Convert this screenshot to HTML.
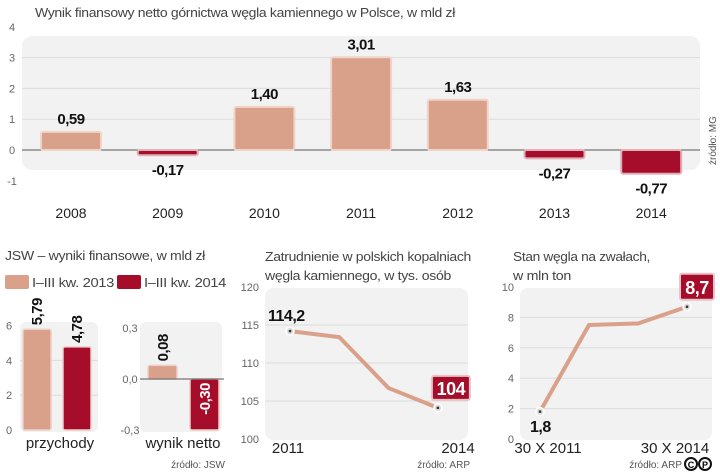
<!DOCTYPE html>
<html><head><meta charset="utf-8">
<style>
body{margin:0;background:#fff;}
svg{display:block;font-family:"Liberation Sans Narrow","Liberation Sans",sans-serif;}
.ax{fill:#666;font-size:11px;}
.t{fill:#444;font-size:13px;letter-spacing:-0.3px;}
.v{fill:#111;font-size:15px;font-weight:bold;letter-spacing:-0.5px;}
.c{fill:#222;font-size:14px;}
.s{fill:#555;font-size:10px;}
</style></head><body>
<svg id="g" width="720" height="473" viewBox="0 0 720 473"></svg>
<script>
const years=['2008','2009','2010','2011','2012','2013','2014'];
const netValues=[0.59,-0.17,1.40,3.01,1.63,-0.27,-0.77];
const netLabels=['0,59','-0,17','1,40','3,01','1,63','-0,27','-0,77'];
const topTicks=[4,3,2,1,0,-1];
const jswGroups=['przychody','wynik netto'];
const jswRevenue=[5.79,4.78];
const jswRevenueLabels=['5,79','4,78'];
const jswNet=[0.08,-0.30];
const jswNetLabels=['0,08','-0,30'];
const revTicks=[6,4,2,0];
const netTicks=[0.3,0.0,-0.3];
const netTickLabels=['0,3','0,0','-0,3'];
const empValues=[114.2,113.4,106.7,104.1];
const empTicks=[120,115,110,105,100];
const empXLabels=['2011','2014'];
const coalValues=[1.8,7.5,7.6,8.7];
const coalTicks=[10,8,6,4,2,0];
const coalXLabels=['30 X 2011','30 X 2014'];
const LIGHT='#d9a08a',DARK='#a50d2a';
const svg=document.getElementById('g');
function el(tag,a,txt,parent){const e=document.createElementNS('http://www.w3.org/2000/svg',tag);for(const k in a)e.setAttribute(k,a[k]);if(txt!=null)e.textContent=txt;(parent||svg).appendChild(e);return e;}

// ---- top chart
let t=el('text',{x:35,y:17,class:'t',textLength:420,lengthAdjust:'spacingAndGlyphs'},'Wynik finansowy netto górnictwa węgla kamiennego w Polsce, w mld zł');

const ty=v=>150-v*30.8;
const tx=i=>71+i*96.7;
let p=el('rect',{x:22,y:36,width:678,height:134,rx:10,fill:'#f2f2f2'});

topTicks.forEach(v=>{
 if(v>-1&&v<4&&v!==0){let l=el('line',{x1:22,x2:700,y1:ty(v),y2:ty(v),stroke:'#dcdcdc'});}
 let a=el('text',{x:12,y:ty(v)+4,class:'ax','text-anchor':'middle'},String(v));
 
});
let z=el('line',{x1:22,x2:700,y1:ty(0),y2:ty(0),stroke:'#555'});
netValues.forEach((v,i)=>{
 const y0=ty(Math.max(v,0)),h=Math.abs(ty(v)-ty(0));
 let b=el('rect',{x:tx(i)-30,y:y0,width:60,height:h,fill:v>=0?LIGHT:DARK,stroke:v>=0?'#f0d4c8':'#e0b0b8','stroke-width':2,rx:2});
 
 let lb=el('text',{x:tx(i),y:v>=0?y0-8:ty(v)+20,class:'v','text-anchor':'middle'},netLabels[i]);
 
 let yl=el('text',{x:tx(i),y:218,class:'c','text-anchor':'middle'},years[i]);
 
});
let sm=el('text',{x:0,y:0,class:'s',transform:'translate(716,165) rotate(-90)'},'źródło: MG');


// ---- JSW
t=el('text',{x:5,y:260,class:'t',textLength:200,lengthAdjust:'spacingAndGlyphs'},'JSW – wyniki finansowe, w mld zł');
[[LIGHT,'I–III kw. 2013',5],[DARK,'I–III kw. 2014',117]].forEach(([c,s,x])=>{
 let r=el('rect',{x:x,y:275,width:24,height:14,fill:c,rx:2});
 let lt=el('text',{x:x+27,y:287,class:'t',textLength:82,lengthAdjust:'spacingAndGlyphs'},s);
});
const ry=v=>430-v*17.4;
p=el('rect',{x:20,y:322,width:78,height:110,rx:6,fill:'#f2f2f2'});
revTicks.forEach(v=>{
 if(v>0&&v<6){let l=el('line',{x1:20,x2:98,y1:ry(v),y2:ry(v),stroke:'#dcdcdc'});}
 let a=el('text',{x:9,y:ry(v)+4,class:'ax','text-anchor':'middle'},String(v));
});
jswRevenue.forEach((v,i)=>{
 const x=23+i*40;
 let b=el('rect',{x:x,y:ry(v),width:28,height:ry(0)-ry(v),fill:i?DARK:LIGHT,stroke:'#ecd0c6','stroke-width':1.5,rx:2});
 
 let lb=el('text',{x:0,y:0,class:'v',transform:`translate(${x+19},${ry(v)-4}) rotate(-90)`},jswRevenueLabels[i]);
 
});
const ny=v=>379-v*170;
p=el('rect',{x:140,y:322,width:82,height:110,rx:6,fill:'#f2f2f2'});
netTicks.forEach((v,i)=>{let a=el('text',{x:130,y:ny(v)+4,class:'ax','text-anchor':'middle'},netTickLabels[i]);});
jswNet.forEach((v,i)=>{
 const x=148+i*42,y0=ny(Math.max(v,0)),h=Math.abs(ny(v)-ny(0));
 let b=el('rect',{x:x,y:y0,width:29,height:h,fill:i?DARK:LIGHT,stroke:'#ecd0c6','stroke-width':1.5,rx:2});
 
 let lb=v>=0?el('text',{x:0,y:0,class:'v',transform:`translate(${x+20},${y0-4}) rotate(-90)`},jswNetLabels[i])
  :el('text',{x:0,y:0,class:'v',style:'fill:#fff',transform:`translate(${x+20},${ny(0)+4}) rotate(-90)`,'text-anchor':'end'},jswNetLabels[i]);
 
});
z=el('line',{x1:140,x2:224,y1:ny(0),y2:ny(0),stroke:'#555'});
[[60,'przychody'],[183,'wynik netto']].forEach(([x,s],i)=>{let c=el('text',{x:x,y:448,class:'c',style:'font-size:15px','text-anchor':'middle'},jswGroups[i]);});
let sj=el('text',{x:225,y:468,class:'s','text-anchor':'end'},'źródło: JSW');

// ---- line chart helper
function lineChart(o){
 o.title.forEach((s,i)=>{let q=el('text',{x:o.tx,y:261+i*19,class:'t',textLength:o.tl[i],lengthAdjust:'spacingAndGlyphs'},s);});
 const Y=v=>o.y0-(v-o.min)*o.k, X=i=>o.x0+i*o.dx;
 let pp=el('rect',{x:o.px,y:288,width:o.pw,height:152,rx:8,fill:'#f2f2f2'});
 o.ticks.forEach(v=>{
  if(v!==o.min&&v!==o.ticks[0]){let l=el('line',{x1:o.px,x2:o.px+o.pw,y1:Y(v),y2:Y(v),stroke:'#dcdcdc'});}
  let a=el('text',{x:o.px-6,y:Y(v)+4,class:'ax','text-anchor':'end'},String(v));
 });
 let ln=el('polyline',{points:o.vals.map((v,i)=>X(i)+','+Y(v)).join(' '),fill:'none',stroke:LIGHT,'stroke-width':4,'stroke-linejoin':'round'});
 
 [0,o.vals.length-1].forEach(i=>{
  let c=el('circle',{cx:X(i),cy:Y(o.vals[i]),r:4,fill:'#ddd',stroke:'#fff','stroke-width':1.5});
  let d=el('rect',{x:X(i)-1.2,y:Y(o.vals[i])-1.2,width:2.4,height:2.4,fill:'#333'});
 });
 o.xl.forEach((s,j)=>{let a=el('text',{x:o.xlx[j],y:453,class:'c',style:'font-size:15px','text-anchor':'middle'},s);});
 return {X,Y};
}
let m=lineChart({title:['Zatrudnienie w polskich kopalniach','węgla kamiennego, w tys. osób'],tl:[206,186],tx:265,px:265,pw:203,x0:290,dx:49.3,y0:439,min:100,k:7.6,ticks:empTicks,vals:empValues,xl:empXLabels,xlx:[288,458]});
let lb=el('text',{x:m.X(0)-22,y:m.Y(empValues[0])-10,class:'v',style:'font-size:16px'},'114,2');
let bx=el('rect',{x:m.X(3)-6,y:m.Y(empValues[3])-32,width:38,height:24,rx:2,fill:DARK,stroke:'#e8c4c8','stroke-width':2});
lb=el('text',{x:m.X(3)+13,y:m.Y(empValues[3])-13,class:'v',style:'fill:#fff;font-size:18px','text-anchor':'middle'},'104');
let sa=el('text',{x:470,y:468,class:'s','text-anchor':'end'},'źródło: ARP');

m=lineChart({title:['Stan węgla na zwałach,','w mln ton'],tl:[137,58],tx:513,px:520,pw:192,x0:540,dx:49,y0:439,min:0,k:15.2,ticks:coalTicks,vals:coalValues,xl:coalXLabels,xlx:[548,675]});
lb=el('text',{x:m.X(0)-10,y:432,class:'v',style:'font-size:16px'},'1,8');
bx=el('rect',{x:m.X(3)-7,y:m.Y(coalValues[3])-33,width:34,height:26,rx:2,fill:DARK,stroke:'#e8c4c8','stroke-width':2});
lb=el('text',{x:m.X(3)+10,y:m.Y(coalValues[3])-13,class:'v',style:'fill:#fff;font-size:18px','text-anchor':'middle'},'8,7');
sa=el('text',{x:682,y:468,class:'s','text-anchor':'end'},'źródło: ARP');
[691,705].forEach((x,i)=>{let c=el('circle',{cx:x,cy:464,r:6,fill:'none',stroke:'#111','stroke-width':2});
 let q=el('text',{x:x,y:468,style:'font-size:9px;font-weight:bold','text-anchor':'middle'},i?'P':'C');});
</script>
</body></html>
